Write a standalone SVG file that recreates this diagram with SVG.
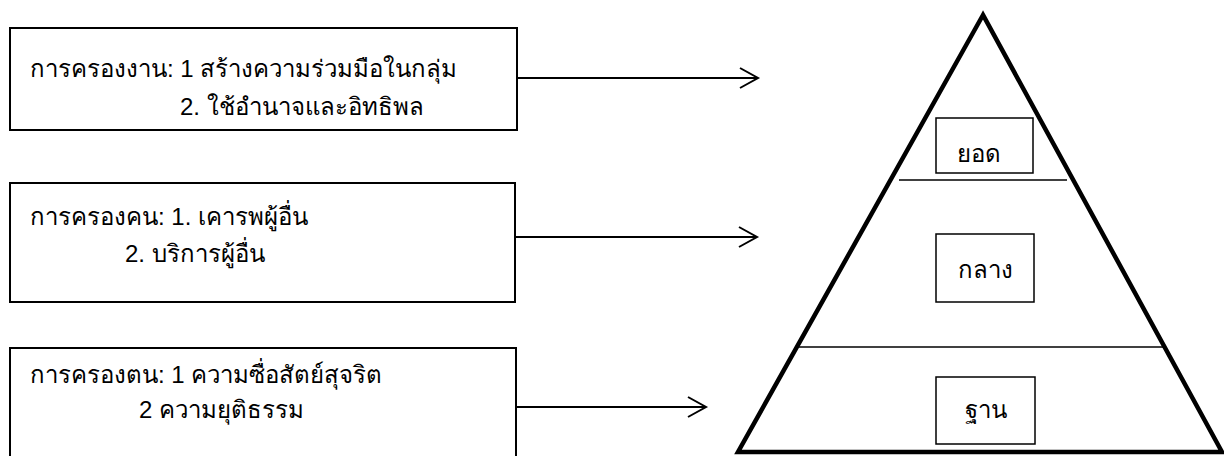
<svg xmlns="http://www.w3.org/2000/svg" width="1224" height="456" viewBox="0 0 1224 456">
<style>
.box{fill:#fff;stroke:#000;stroke-width:2}
.lbl{fill:#fff;stroke:#000;stroke-width:1.5}
.t{font-family:"Liberation Sans","Noto Sans",sans-serif;font-size:24px;fill:#000}
.c{stroke:#000;stroke-width:2;fill:none}
.sep{stroke:#000;stroke-width:1.5}
</style>
<rect width="1224" height="456" fill="#fff"/>
<g id="box-work">
<rect class="box" x="10" y="28" width="507" height="102"/>
<text class="t" x="30" y="77">การครองงาน: 1 สร้างความร่วมมือในกลุ่ม</text>
<text class="t" x="180" y="115">2. ใช้อำนาจและอิทธิพล</text>
</g>
<g id="box-people">
<rect class="box" x="10" y="183" width="505" height="119"/>
<text class="t" x="30" y="225">การครองคน: 1. เคารพผู้อื่น</text>
<text class="t" x="125" y="262">2. บริการผู้อื่น</text>
</g>
<g id="box-self">
<rect class="box" x="10" y="348" width="506" height="120"/>
<text class="t" x="30" y="383">การครองตน: 1 ความซื่อสัตย์สุจริต</text>
<text class="t" x="139" y="418">2 ความยุติธรรม</text>
</g>
<g id="pyramid">
<polygon points="983,15 738,452 1222,452" fill="none" stroke="#000" stroke-width="4.5" stroke-linejoin="miter"/>
<line class="sep" x1="899" y1="180" x2="1067" y2="180"/>
<line class="sep" x1="799" y1="347" x2="1165" y2="347"/>
</g>
<g id="top">
<rect class="lbl" x="936" y="118" width="97" height="55"/>
<text class="t" x="957" y="162">ยอด</text>
</g>
<g id="middle">
<rect class="lbl" x="936" y="234" width="98" height="68"/>
<text class="t" x="958" y="278">กลาง</text>
</g>
<g id="base">
<rect class="lbl" x="936" y="377" width="99" height="67"/>
<text class="t" x="965" y="418">ฐาน</text>
</g>
<g id="connectors">
<path class="c" d="M517,78 H758 M740,68 L758,78 L740,88"/>
<path class="c" d="M515,237 H757 M739,227 L757,237 L739,247"/>
<path class="c" d="M516,407 H706 M688,397 L706,407 L688,417"/>
</g>
</svg>
